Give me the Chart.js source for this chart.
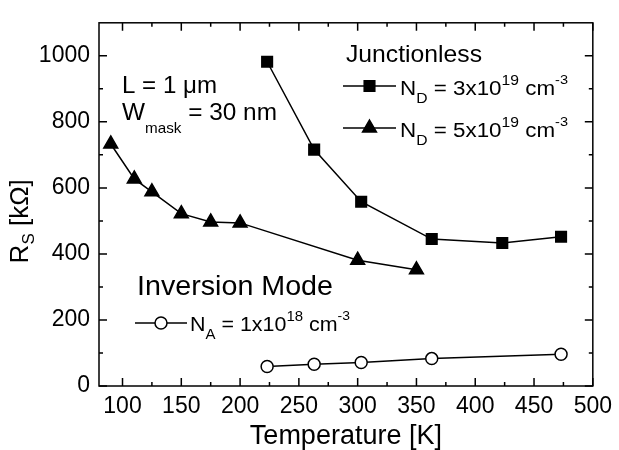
<!DOCTYPE html>
<html>
<head>
<meta charset="utf-8">
<script src="https://cdn.jsdelivr.net/npm/chart.js@4/dist/chart.umd.min.js"></script>
<style>
  html, body { margin: 0; padding: 0; background: #fff; }
</style>
</head>
<body>
<canvas id="rsChart" width="619" height="450"></canvas>
<script>
// Junctionless, N_D = 3x10^19 cm^-3 (squares)
const tempJl3 = [223, 263, 303, 363, 423, 473];
const rsJl3 = [982, 716, 558, 445, 433, 452];

// Junctionless, N_D = 5x10^19 cm^-3 (triangles)
const tempJl5 = [90, 110, 125, 150, 175, 200, 300, 350];
const rsJl5 = [733, 627, 588, 522, 497, 494, 381, 352];

// Inversion mode, N_A = 1x10^18 cm^-3 (open circles)
const tempIm = [223, 263, 303, 363, 473];
const rsIm = [59, 66, 71, 83, 96];

const xTicks = [100, 150, 200, 250, 300, 350, 400, 450, 500];
const yTicks = [0, 200, 400, 600, 800, 1000];

const FONT = '"Liberation Sans", Arial, sans-serif';

function toPoints(xs, ys) {
    return xs.map((x, i) => ({ x: x, y: ys[i] }));
}

// draw a run of text pieces (normal / sub / superscript), optionally stretched to a width
function drawRuns(ctx, x, y, runs, width) {
    let natural = 0;
    runs.forEach(r => {
        ctx.font = r[1] + "px " + FONT;
        natural += ctx.measureText(r[0]).width;
    });
    const sx = width ? width / natural : 1;
    ctx.save();
    ctx.translate(x, y);
    ctx.scale(sx, 1);
    ctx.textBaseline = "alphabetic";
    ctx.textAlign = "left";
    let cx = 0;
    runs.forEach(r => {
        ctx.font = r[1] + "px " + FONT;
        ctx.fillText(r[0], cx, r[2] || 0);
        cx += ctx.measureText(r[0]).width;
    });
    ctx.restore();
}

function drawSample(ctx, x1, x2, y, style, fill, radius) {
    ctx.save();
    ctx.strokeStyle = "#000";
    ctx.lineWidth = 1.5;
    ctx.beginPath();
    ctx.moveTo(x1, y);
    ctx.lineTo(x2, y);
    ctx.stroke();
    ctx.fillStyle = fill;
    Chart.helpers.drawPoint(ctx, {
        pointStyle: style,
        radius: radius,
        rotation: 0,
        borderWidth: 1.5
    }, (x1 + x2) / 2, y);
    ctx.restore();
}

const frameAndLabels = {
    id: "frameAndLabels",
    afterDraw(chart) {
        const ctx = chart.ctx;
        const a = chart.chartArea;
        const xs = chart.scales.x;
        const ys = chart.scales.y;

        ctx.save();
        ctx.strokeStyle = "#000";
        ctx.lineWidth = 1.5;
        ctx.strokeRect(a.left, a.top, a.right - a.left, a.bottom - a.top);

        // inward ticks on all four sides
        const tick = (px, len, vertical) => {
            ctx.beginPath();
            if (vertical) {
                ctx.moveTo(px, a.bottom); ctx.lineTo(px, a.bottom - len);
                ctx.moveTo(px, a.top); ctx.lineTo(px, a.top + len);
            } else {
                ctx.moveTo(a.left, px); ctx.lineTo(a.left + len, px);
                ctx.moveTo(a.right, px); ctx.lineTo(a.right - len, px);
            }
            ctx.stroke();
        };
        xTicks.forEach((v, i) => {
            tick(xs.getPixelForValue(v), 8, true);
            if (i > 0) tick(xs.getPixelForValue((v + xTicks[i - 1]) / 2), 4, true);
        });
        yTicks.forEach((v, i) => {
            tick(ys.getPixelForValue(v), 8, false);
            if (i > 0) tick(ys.getPixelForValue((v + yTicks[i - 1]) / 2), 4, false);
        });

        ctx.fillStyle = "#000";

        // y axis title, rotated, with subscript
        ctx.save();
        ctx.translate(28, (a.top + a.bottom) / 2 + 12);
        ctx.rotate(-Math.PI / 2);
        drawRuns(ctx, -47, 0, [["R", 26], ["S", 17, 6], [" [k\u03A9]", 26]]);
        ctx.restore();

        // device annotations
        drawRuns(ctx, 122, 93, [["L = 1 \u03BCm", 24]], 95);
        drawRuns(ctx, 122, 120, [["W", 24], ["mask", 15, 13], [" = 30 nm", 24]], 155);

        drawRuns(ctx, 346, 62, [["Junctionless", 24]], 136);
        drawSample(ctx, 343, 396, 86, "rect", "#000", 7.5);
        drawRuns(ctx, 400, 95, [["N", 20], ["D", 14, 8], [" = 3x10", 20], ["19", 14, -10], [" cm", 20], ["-3", 13, -11]], 168);
        drawSample(ctx, 343, 396, 128, "triangle", "#000", 8);
        drawRuns(ctx, 400, 137, [["N", 20], ["D", 14, 8], [" = 5x10", 20], ["19", 14, -10], [" cm", 20], ["-3", 13, -11]], 168);

        drawRuns(ctx, 137, 295, [["Inversion Mode", 28]], 196);
        drawSample(ctx, 135, 187, 323, "circle", "#fff", 6);
        drawRuns(ctx, 190, 331, [["N", 20], ["A", 14, 8], [" = 1x10", 20], ["18", 14, -10], [" cm", 20], ["-3", 13, -11]], 160);

        ctx.restore();
    }
};

const lineStyle = {
    borderColor: "#000",
    borderWidth: 1.5,
    pointBorderColor: "#000",
    pointBorderWidth: 1.5,
    tension: 0,
    fill: false
};

new Chart(document.getElementById("rsChart"), {
    type: "line",
    data: {
        datasets: [
            Object.assign({
                label: "ND3e19",
                data: toPoints(tempJl3, rsJl3),
                pointStyle: "rect",
                pointRadius: 7.5,
                pointBackgroundColor: "#000"
            }, lineStyle),
            Object.assign({
                label: "ND5e19",
                data: toPoints(tempJl5, rsJl5),
                pointStyle: "triangle",
                pointRadius: 8,
                pointBackgroundColor: "#000"
            }, lineStyle),
            Object.assign({
                label: "NA1e18",
                data: toPoints(tempIm, rsIm),
                pointStyle: "circle",
                pointRadius: 6,
                pointBackgroundColor: "#fff"
            }, lineStyle)
        ]
    },
    options: {
        responsive: false,
        animation: false,
        events: [],
        layout: {
            padding: { top: 13, right: 21, left: 0, bottom: 0 }
        },
        plugins: {
            legend: { display: false },
            tooltip: { enabled: false }
        },
        scales: {
            x: {
                type: "linear",
                min: 80,
                max: 500,
                afterBuildTicks: s => { s.ticks = xTicks.map(v => ({ value: v })); },
                afterFit: s => { s.height = 64; },
                grid: { display: false, drawTicks: false },
                border: { display: false },
                ticks: {
                    color: "#000",
                    padding: 7,
                    maxRotation: 0,
                    autoSkip: false,
                    callback: v => String(v),
                    font: { family: FONT, size: 23 }
                },
                title: {
                    display: true,
                    text: "Temperature [K]",
                    color: "#000",
                    padding: 0,
                    font: { family: FONT, size: 27, lineHeight: 1 }
                }
            },
            y: {
                min: 0,
                max: 1100,
                afterBuildTicks: s => { s.ticks = yTicks.map(v => ({ value: v })); },
                afterFit: s => { s.width = 99; },
                grid: { display: false, drawTicks: false },
                border: { display: false },
                ticks: {
                    color: "#000",
                    padding: 9,
                    callback: v => String(v),
                    font: { family: FONT, size: 23 }
                }
            }
        }
    },
    plugins: [frameAndLabels]
});
</script>
</body>
</html>
